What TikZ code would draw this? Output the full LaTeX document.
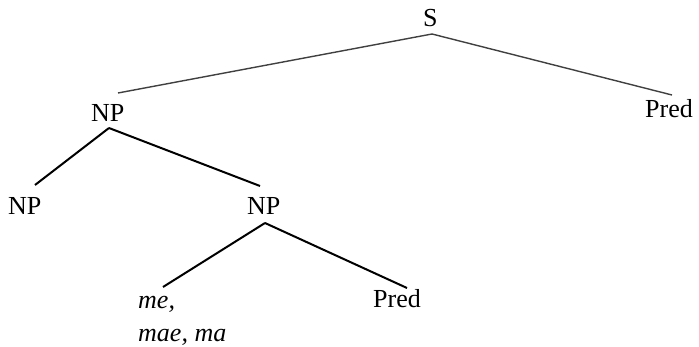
\documentclass[tikz,border=0pt]{standalone}
\usepackage{fontspec}
\setmainfont{Liberation Serif}
\usetikzlibrary{calc}
\begin{document}
\begin{tikzpicture}[x=1pt,y=-1pt,
  lbl/.style={inner sep=0pt,anchor=base west,font=\fontsize{26}{34}\selectfont},
  upper/.style={line width=1.4pt,draw=black!75},
  lower/.style={line width=2pt,draw=black}]
\useasboundingbox (0,0) rectangle (699,347);
\node[lbl] (S) at (423,27) {S};
\node[lbl] (NP1) at (91,122) {NP};
\node[lbl] (P1) at (645,118) {Pred};
\node[lbl] (NPL) at (8,215) {NP};
\node[lbl] (NPR) at (247,215) {NP};
\node[lbl] (P2) at (373,308) {Pred};
\node[lbl,align=left,font=\fontsize{26}{34}\selectfont\itshape] (ME) at (138,342) {me,\\mae, ma};
\draw[upper] ($(S.base west)+(9,7)$) -- ($(NP1.base west)+(27,-29)$);
\draw[upper] ($(S.base west)+(9,7)$) -- ($(P1.base west)+(27,-23)$);
\draw[lower] ($(NP1.base west)+(18,6)$) -- ($(NPL.base west)+(27,-30)$);
\draw[lower] ($(NP1.base west)+(18,6)$) -- ($(NPR.base west)+(13,-29)$);
\draw[lower] ($(NPR.base west)+(18,8)$) -- ($(ME.base west)+(25,-55)$);
\draw[lower] ($(NPR.base west)+(18,8)$) -- ($(P2.base west)+(34,-20)$);
\end{tikzpicture}
\end{document}
